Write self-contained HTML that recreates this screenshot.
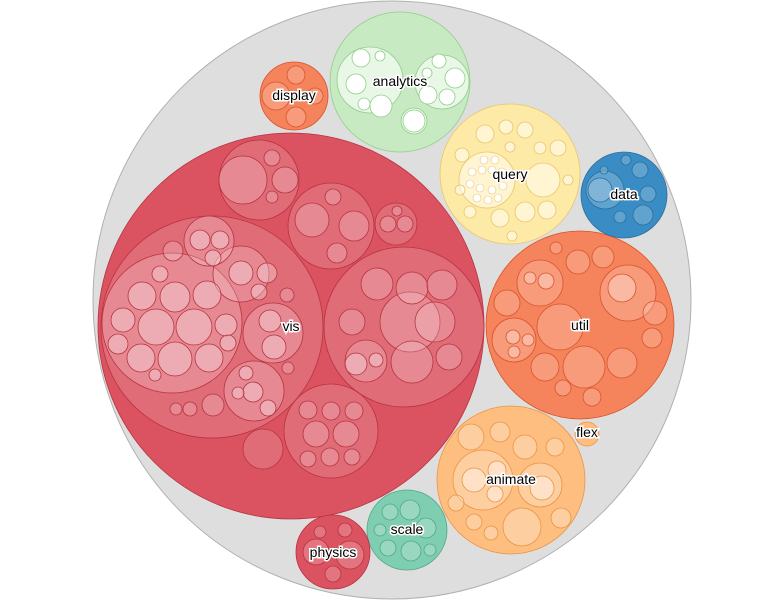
<!DOCTYPE html>
<html><head><style>html,body{margin:0;padding:0;background:#fff}svg{display:block}</style></head><body>
<svg width="784" height="600" viewBox="0 0 784 600" font-family="Liberation Sans, sans-serif" font-size="14">
<circle cx="392" cy="300" r="299" fill="#dedede" stroke="#b0b0b0"/>
<!-- vis -->
<g stroke="#b8323f" stroke-width="0.8">
<circle cx="291" cy="326" r="193" fill="#db5361"/>
<g fill="#fff" fill-opacity="0.15">
<circle cx="212" cy="327" r="111"/>
<circle cx="404" cy="327" r="80"/>
<circle cx="259" cy="180" r="40"/>
<circle cx="331" cy="226" r="43"/>
<circle cx="396" cy="224" r="21"/>
<circle cx="331" cy="431" r="47"/>
<circle cx="263" cy="449" r="20"/>
</g>
<g fill="#fff" fill-opacity="0.2">
<circle cx="172" cy="323" r="70"/><circle cx="241" cy="274" r="28"/><circle cx="273" cy="333" r="30"/><circle cx="254" cy="391" r="30"/><circle cx="209" cy="241" r="25"/><circle cx="173" cy="251" r="10"/><circle cx="213" cy="405" r="11"/><circle cx="190" cy="409" r="7"/><circle cx="176" cy="409" r="6"/><circle cx="287" cy="295" r="7"/><circle cx="288" cy="368" r="6"/>
<circle cx="410" cy="322" r="30"/><circle cx="377" cy="284" r="16"/><circle cx="412" cy="288" r="16"/><circle cx="442" cy="285" r="15"/><circle cx="435" cy="322" r="20"/><circle cx="412" cy="362" r="21"/><circle cx="366" cy="361" r="21"/><circle cx="449" cy="357" r="13"/><circle cx="352" cy="322" r="13"/>
<circle cx="243" cy="180" r="24"/><circle cx="285" cy="180" r="13"/><circle cx="272" cy="158" r="8"/><circle cx="272" cy="197" r="6"/>
<circle cx="312" cy="220" r="17"/><circle cx="354" cy="226" r="15"/><circle cx="333" cy="197" r="8"/><circle cx="337" cy="253" r="10"/>
<circle cx="388" cy="224" r="8"/><circle cx="405" cy="224" r="8"/><circle cx="397" cy="211" r="5"/>
<circle cx="316" cy="434" r="13"/><circle cx="346" cy="434" r="13"/><circle cx="331" cy="411" r="9"/><circle cx="308" cy="410" r="9"/><circle cx="354" cy="411" r="9"/><circle cx="330" cy="457" r="9"/><circle cx="308" cy="459" r="8"/><circle cx="352" cy="457" r="8"/>
</g>
<g fill="#fff" fill-opacity="0.3">
<circle cx="156" cy="327" r="18"/><circle cx="194" cy="327" r="18"/><circle cx="175" cy="297" r="15"/><circle cx="207" cy="295" r="14"/><circle cx="142" cy="296" r="14"/><circle cx="175" cy="359" r="17"/><circle cx="141" cy="358" r="14"/><circle cx="209" cy="358" r="14"/><circle cx="123" cy="320" r="12"/><circle cx="226" cy="325" r="11"/><circle cx="118" cy="344" r="10"/><circle cx="160" cy="274" r="8"/><circle cx="155" cy="375" r="6"/><circle cx="228" cy="343" r="8"/>
<circle cx="200" cy="240" r="10"/><circle cx="220" cy="240" r="9"/><circle cx="213" cy="258" r="8"/><circle cx="241" cy="273" r="12"/><circle cx="267" cy="273" r="10"/><circle cx="259" cy="292" r="8"/><circle cx="270" cy="321" r="11"/><circle cx="274" cy="347" r="12"/><circle cx="253" cy="392" r="10"/><circle cx="268" cy="408" r="8"/><circle cx="246" cy="373" r="7"/><circle cx="238" cy="393" r="6"/><circle cx="356" cy="364" r="11"/><circle cx="376" cy="360" r="7"/>
</g>
</g>
<!-- util -->
<g stroke="#d9532b" stroke-width="0.8">
<circle cx="580" cy="325" r="94" fill="#f5835b"/>
<g fill="#fff" fill-opacity="0.2">
<circle cx="560" cy="327" r="23"/><circle cx="628" cy="293" r="28"/><circle cx="540" cy="283" r="23"/><circle cx="584" cy="367" r="21"/><circle cx="622" cy="363" r="15"/><circle cx="514" cy="340" r="22"/><circle cx="545" cy="367" r="14"/><circle cx="507" cy="303" r="13"/><circle cx="578" cy="262" r="12"/><circle cx="603" cy="257" r="11"/><circle cx="655" cy="313" r="12"/><circle cx="652" cy="338" r="10"/><circle cx="563" cy="388" r="8"/><circle cx="592" cy="397" r="9"/><circle cx="556" cy="248" r="6"/>
</g>
<g fill="#fff" fill-opacity="0.3"><circle cx="622" cy="288" r="14"/><circle cx="546" cy="281" r="8"/><circle cx="530" cy="278" r="6"/><circle cx="513" cy="337" r="7"/><circle cx="528" cy="340" r="6"/><circle cx="514" cy="352" r="6"/></g>
</g>
<!-- animate -->
<g stroke="#ea9444" stroke-width="0.8">
<circle cx="511" cy="480" r="74" fill="#fdbe80"/>
<g fill="#fff" fill-opacity="0.25">
<circle cx="483" cy="480" r="30"/><circle cx="540" cy="485" r="22"/><circle cx="522" cy="527" r="19"/><circle cx="471" cy="437" r="13"/><circle cx="500" cy="432" r="10"/><circle cx="525" cy="447" r="12"/><circle cx="555" cy="447" r="9"/><circle cx="456" cy="503" r="8"/><circle cx="474" cy="522" r="8"/><circle cx="491" cy="533" r="7"/><circle cx="561" cy="518" r="10"/>
</g>
<g fill="#fff" fill-opacity="0.4"><circle cx="474" cy="480" r="12"/><circle cx="497" cy="470" r="9"/><circle cx="495" cy="494" r="8"/><circle cx="542" cy="488" r="12"/></g>
</g>
<circle cx="587" cy="434" r="12" fill="#fdbe80" stroke="#ea9444" stroke-width="0.8"/>
<!-- query -->
<g stroke="#e8c66a" stroke-width="0.8">
<circle cx="510" cy="174" r="70" fill="#feeaa7"/>
<g fill="#fff" fill-opacity="0.5">
<circle cx="487" cy="180" r="28"/><circle cx="543" cy="180" r="17"/><circle cx="525" cy="212" r="10"/><circle cx="500" cy="218" r="9"/><circle cx="547" cy="210" r="9"/><circle cx="485" cy="134" r="9"/><circle cx="525" cy="130" r="8"/><circle cx="506" cy="127" r="7"/><circle cx="462" cy="155" r="7"/><circle cx="558" cy="148" r="8"/><circle cx="540" cy="148" r="6"/><circle cx="470" cy="212" r="6"/><circle cx="460" cy="190" r="5"/><circle cx="512" cy="236" r="5"/><circle cx="568" cy="180" r="5"/><circle cx="510" cy="147" r="5"/>
</g>
<g fill="#fff" stroke-width="0.6"><circle cx="472" cy="172" r="4"/><circle cx="482" cy="170" r="4"/><circle cx="492" cy="170" r="4"/><circle cx="502" cy="172" r="4"/><circle cx="470" cy="184" r="4"/><circle cx="480" cy="188" r="4"/><circle cx="492" cy="190" r="4"/><circle cx="503" cy="186" r="4"/><circle cx="477" cy="198" r="4"/><circle cx="488" cy="200" r="4"/><circle cx="498" cy="198" r="4"/><circle cx="484" cy="160" r="4"/><circle cx="495" cy="160" r="4"/></g>
</g>
<!-- analytics -->
<g stroke="#8fce88" stroke-width="0.8">
<circle cx="400" cy="82" r="70" fill="#c8eac2"/>
<g fill="#fff" fill-opacity="0.6"><circle cx="370" cy="80" r="33"/><circle cx="442" cy="82" r="27"/><circle cx="414" cy="121" r="13"/></g>
<g fill="#fff"><circle cx="361" cy="58" r="9"/><circle cx="356" cy="84" r="10"/><circle cx="381" cy="106" r="11"/><circle cx="364" cy="104" r="6"/><circle cx="455" cy="78" r="10"/><circle cx="428" cy="95" r="9"/><circle cx="447" cy="97" r="8"/><circle cx="439" cy="61" r="7"/><circle cx="427" cy="73" r="5"/><circle cx="414" cy="121" r="11"/><circle cx="380" cy="56" r="5"/></g>
</g>
<!-- data -->
<g stroke="#2a6f9e" stroke-width="0.8">
<circle cx="624" cy="195" r="43" fill="#3a8dc4"/>
<g fill="#fff" fill-opacity="0.2"><circle cx="605" cy="190" r="19"/><circle cx="643" cy="215" r="10"/><circle cx="648" cy="194" r="8"/><circle cx="640" cy="170" r="8"/><circle cx="620" cy="217" r="6"/><circle cx="626" cy="160" r="5"/><circle cx="604" cy="170" r="4"/></g>
<circle cx="600" cy="190" r="12" fill="#fff" fill-opacity="0.2"/>
</g>
<!-- display -->
<g stroke="#d9532b" stroke-width="0.8">
<circle cx="294" cy="96" r="34" fill="#f5835b"/>
<g fill="#fff" fill-opacity="0.2"><circle cx="276" cy="96" r="14"/><circle cx="296" cy="117" r="10"/><circle cx="296" cy="75" r="9"/><circle cx="315" cy="96" r="8"/></g>
</g>
<!-- scale -->
<g stroke="#4fa887" stroke-width="0.8">
<circle cx="407" cy="530" r="40" fill="#80ceb1"/>
<g fill="#fff" fill-opacity="0.2"><circle cx="410" cy="510" r="10"/><circle cx="390" cy="512" r="8"/><circle cx="426" cy="528" r="10"/><circle cx="411" cy="551" r="10"/><circle cx="388" cy="548" r="8"/><circle cx="430" cy="550" r="6"/><circle cx="380" cy="530" r="6"/></g>
</g>
<!-- physics -->
<g stroke="#b8323f" stroke-width="0.8">
<circle cx="333" cy="552" r="37" fill="#db5361"/>
<g fill="#fff" fill-opacity="0.2"><circle cx="316" cy="552" r="13"/><circle cx="350" cy="555" r="14"/><circle cx="333" cy="574" r="8"/><circle cx="320" cy="532" r="6"/><circle cx="345" cy="530" r="7"/></g>
</g>
<g fill="#000" stroke="#fff" stroke-width="3" paint-order="stroke" text-anchor="middle">
<text x="291" y="331">vis</text>
<text x="580" y="330">util</text>
<text x="511" y="484">animate</text>
<text x="510" y="179">query</text>
<text x="400" y="86">analytics</text>
<text x="624" y="199">data</text>
<text x="294" y="100">display</text>
<text x="407" y="534">scale</text>
<text x="333" y="557">physics</text>
<text x="587" y="437">flex</text>
</g>
</svg>
</body></html>
